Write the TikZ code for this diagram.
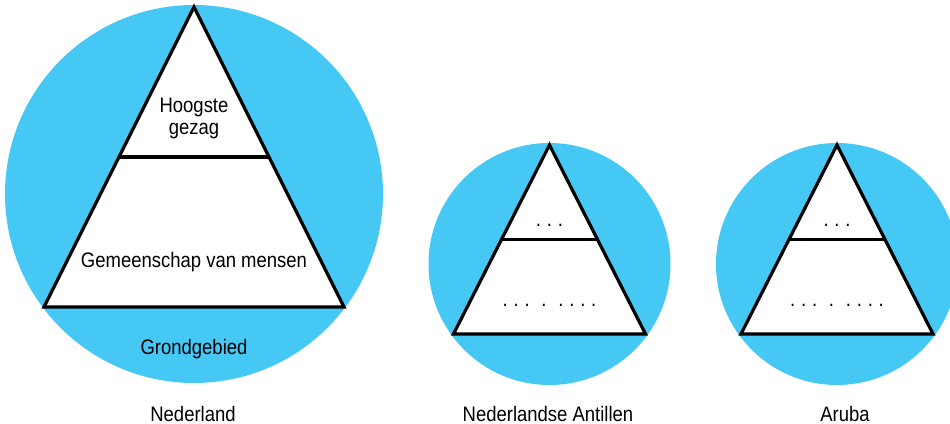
\documentclass[tikz,border=0pt]{standalone}
\usepackage{fontspec}
\setmainfont[FakeStretch=0.88]{Liberation Sans}
\usetikzlibrary{calc}
\definecolor{landblue}{RGB}{70,200,245}
\newcommand{\stip}{.\hspace{2.9pt}}
\newcommand{\groep}{.\hspace{5.9pt}}
\begin{document}
\begin{tikzpicture}[x=0.5pt,y=0.5pt,
    grond/.style={fill=landblue},
    piramide/.style={draw=black, fill=white, line width=1.6pt, line join=miter},
    laag/.style={line width=1.6pt},
    tekst/.style={font=\fontsize{10.5}{11}\selectfont, inner sep=0pt, anchor=base}]
	\useasboundingbox (0,0) rectangle (950,424);
	% Nederland
	\fill[grond] (194,230) circle (189);
	\draw[piramide] (194,417) coordinate (top) -- (344,117) coordinate (br) -- (44,117) coordinate (bl) -- cycle;
	\draw[laag] ($(top)!0.5!(bl)$) coordinate (ml) -- ($(top)!0.5!(br)$) coordinate (mr);
	\node[tekst, anchor=center, align=center] (gezag) at (194,306) {Hoogste\\gezag};
	\node[tekst] (mensen) at (194,156) {Gemeenschap van mensen};
	\node[tekst] (gebied) at (194,69) {Grondgebied};
	\node[tekst] (nl) at (193,3) {Nederland};
	% de andere landen
	\foreach \cx/\naam/\tekst/\lx in {549.5/ant/Nederlandse Antillen/548, 837/aru/Aruba/845}{
		\fill[grond] (\cx,160) circle (121);
		\draw[piramide] (\cx,279) coordinate (\naam top) -- (\cx+96,90) coordinate (\naam br) -- (\cx-96,90) coordinate (\naam bl) -- cycle;
		\draw[laag] ($(\naam top)!0.5!(\naam bl)$) -- ($(\naam top)!0.5!(\naam br)$);
		\node[tekst] (\naam boven) at (\cx,198) {\stip\stip.};
		\node[tekst] (\naam onder) at (\cx,118) {\stip\stip\groep\groep\stip\stip\stip.};
		\node[tekst] (\naam naam) at (\lx,3) {\tekst};
	}
\end{tikzpicture}
\end{document}
